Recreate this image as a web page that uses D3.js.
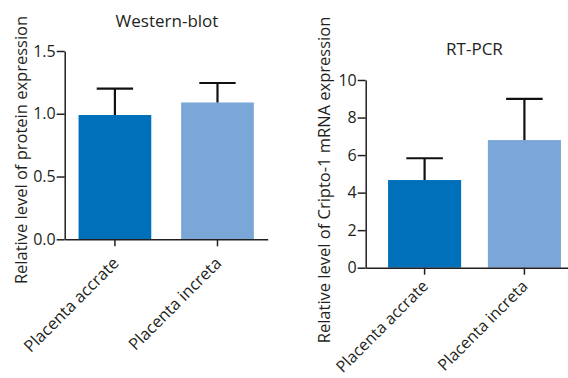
<!DOCTYPE html>
<html><head><meta charset="utf-8">
<script src="https://cdn.jsdelivr.net/npm/d3@7"></script>
<style>
body{margin:0;background:#fff;}
svg text{font-family:"Open Sans",sans-serif;fill:#231f20;}
</style></head>
<body><svg id="c" width="568" height="378"></svg>
<script>
const categories = ["Placenta accrate", "Placenta increta"];
const wbMeans = [0.99, 1.09];
const wbErrors = [0.21, 0.155];
const wbTicks = [0, 0.5, 1.0, 1.5];
const pcrMeans = [4.67, 6.80];
const pcrErrors = [1.16, 2.19];
const pcrTicks = [0, 2, 4, 6, 8, 10];
const barColors = ["#0070ba", "#7ba7d8"];

const svg = d3.select("#c");
const ink = "#231f20";

function panel(o){
  const g = svg.append("g");
  const x = d3.scaleBand().domain(categories).range([o.x0, o.x1])
    .paddingInner(o.pi).paddingOuter(o.po);
  const y = d3.scaleLinear().domain(o.domain).range([o.y0, o.y1]);
  g.selectAll("rect.bar").data(o.means).join("rect")
    .attr("x",(d,i)=>x(categories[i])).attr("width",x.bandwidth())
    .attr("y",d=>y(d)).attr("height",d=>y(0)-y(d))
    .attr("fill",(d,i)=>barColors[i]);
  const cw = x.bandwidth()/2;
  o.means.forEach((m,i)=>{
    const cx = x(categories[i])+x.bandwidth()/2;
    g.append("line").attr("x1",cx).attr("x2",cx).attr("y1",y(m)).attr("y2",y(m+o.err[i]))
      .attr("stroke","#111").attr("stroke-width",2.2);
    g.append("line").attr("x1",cx-cw/2).attr("x2",cx+cw/2).attr("y1",y(m+o.err[i])).attr("y2",y(m+o.err[i]))
      .attr("stroke","#111").attr("stroke-width",2.2);
  });
  const ya = g.append("g").attr("transform",`translate(${o.x0},0)`)
    .call(d3.axisLeft(y).tickValues(o.ticks).tickFormat(o.fmt).tickSize(8).tickPadding(1).tickSizeOuter(0));
  ya.select(".domain").attr("stroke",ink).attr("stroke-width",1.5);
  ya.selectAll(".tick line").attr("stroke",ink).attr("stroke-width",1.5);
  ya.selectAll(".tick text").attr("font-size",o.tickFs).attr("fill",ink).style("font-family","'Open Sans',sans-serif");
  const xa = g.append("g").attr("transform",`translate(0,${o.y0})`)
    .call(d3.axisBottom(x).tickSize(7).tickSizeOuter(0).tickPadding(0));
  xa.select(".domain").attr("stroke",ink).attr("stroke-width",1.5);
  xa.selectAll(".tick line").attr("stroke",ink).attr("stroke-width",1.5);
  xa.selectAll(".tick text").attr("font-size",o.xfs).attr("fill",ink)
    .style("font-family","'Open Sans',sans-serif")
    .attr("text-anchor","end").attr("dy",0).attr("y",0)
    .attr("transform",`translate(${o.lx},${o.ly}) rotate(-45)`);
  g.append("text").attr("x",o.tx).attr("y",o.ty).attr("text-anchor","middle")
    .attr("font-size",o.titleFs).text(o.title);
  g.append("text").attr("transform",`translate(${o.yl[0]},${o.yl[1]}) rotate(-90)`)
    .attr("text-anchor","middle").attr("font-size",o.fs).text(o.ylabel);
}

panel({x0:64.7,x1:267.7,pi:0.291,po:0.135,y0:239.3,y1:51,domain:[0,1.5],
  means:wbMeans,err:wbErrors,ticks:wbTicks,fmt:d3.format(".1f"),
  tickFs:16,fs:16.5,xfs:16.5,titleFs:17,lx:5,ly:25,
  title:"Western-blot",tx:167,ty:27,ylabel:"Relative level of protein expression",yl:[26.5,150]});
panel({x0:365.7,x1:583.3,pi:0.268,po:0.224,y0:267.7,y1:80,domain:[0,10],
  means:pcrMeans,err:pcrErrors,ticks:pcrTicks,fmt:d3.format("d"),
  tickFs:16,fs:16.5,xfs:16,titleFs:17,lx:4.5,ly:19.5,
  title:"RT-PCR",tx:474.5,ty:55,ylabel:"Relative level of Cripto-1 mRNA expression",yl:[330,180]});
</script></body></html>
